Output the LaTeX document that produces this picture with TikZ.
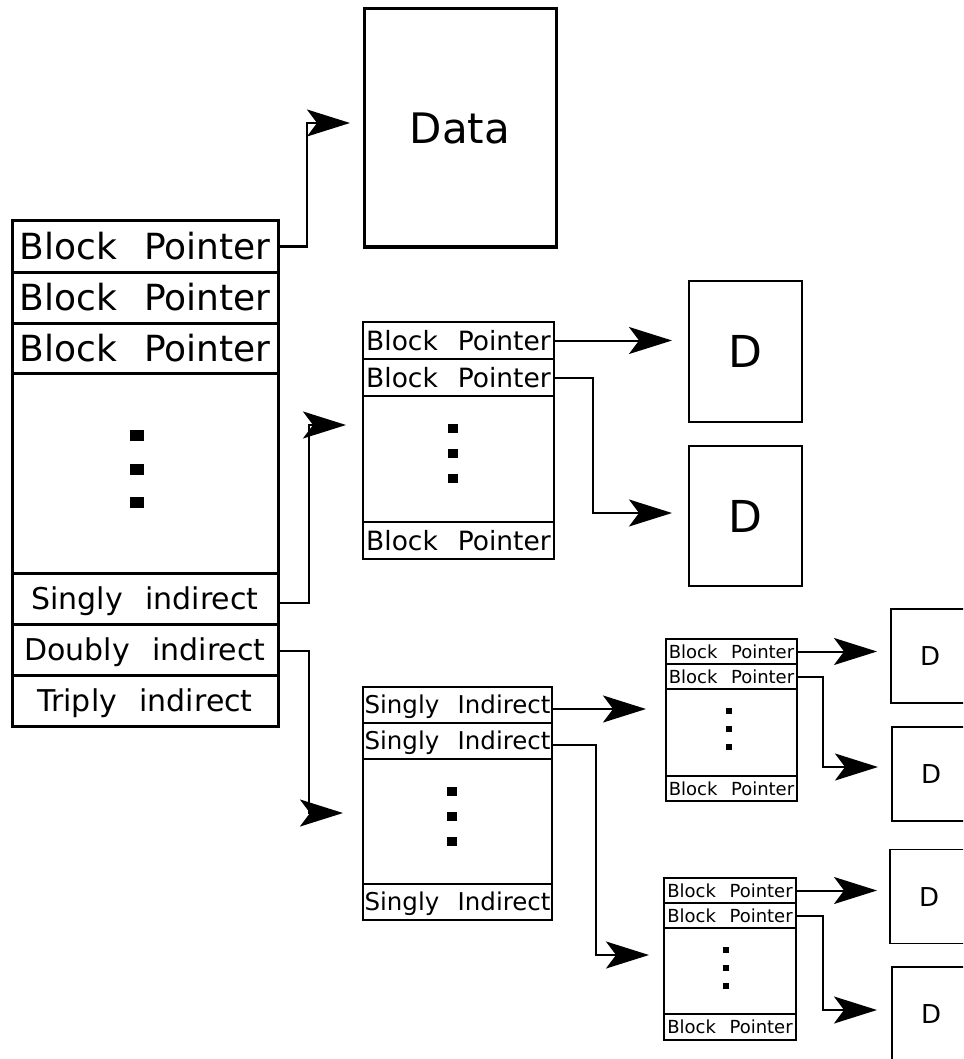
\documentclass[tikz,border=0pt]{standalone}
\usepackage{fontspec}
\setmainfont{DejaVu Sans}
\usetikzlibrary{arrows.meta,calc}
\newcommand{\wgap}{\hspace{0.75em}}
\begin{document}
\begin{tikzpicture}[x=1pt,y=-1pt,
  cell/.style={draw,rectangle,inner sep=0pt,text depth=0pt,line join=miter},
  bigc/.style={cell,line width=3pt,minimum width=266pt},
  bigbp/.style={bigc,font=\fontsize{36}{40}\selectfont,text height=26.3pt},
  bigind/.style={bigc,font=\fontsize{30}{34}\selectfont,text height=21.9pt},
  midc/.style={cell,line width=2.5pt,minimum width=191pt,font=\fontsize{26.5}{30}\selectfont,text height=19.3pt},
  dblc/.style={cell,line width=2.5pt,minimum width=189pt,font=\fontsize{24.5}{28}\selectfont,text height=17.9pt},
  smlc/.style={cell,line width=2pt,font=\fontsize{18}{21}\selectfont,text height=13.1pt},
  bigd/.style={cell,line width=2.5pt,minimum width=113pt,font=\fontsize{44}{48}\selectfont,text height=32pt},
  smld/.style={cell,line width=1.5pt,minimum width=78pt,minimum height=94pt,font=\fontsize{26}{30}\selectfont,text height=19pt},
  conn/.style={line width=2pt,-{Stealth[length=43pt,width=27pt,inset=10pt]}},
  sq/.style={fill=black}
]
\useasboundingbox (0,0) rectangle (963,1059);
\clip (0,0) rectangle (963,1059);

% main inode table
\node[bigbp,minimum height=51pt] (b1) at (145,246.5) {Block\wgap Pointer};
\node[bigbp,minimum height=51pt] (b2) at (145,297.5) {Block\wgap Pointer};
\node[bigbp,minimum height=50pt] (b3) at (145,348) {Block\wgap Pointer};
\node[bigc,minimum height=200pt] (bm) at (145,473) {};
\node[bigind,minimum height=51pt] (si) at (145,598.5) {Singly\wgap indirect};
\node[bigind,minimum height=51pt] (di) at (145,649.5) {Doubly\wgap indirect};
\node[bigind,minimum height=51pt] (ti) at (145,700.5) {Triply\wgap indirect};
\fill[sq] (130,430) rectangle (144,441);
\fill[sq] (130,463.5) rectangle (144,474.5);
\fill[sq] (130,497) rectangle (144,508);

% data block
\node[cell,line width=3pt,minimum width=192pt,minimum height=238pt,font=\fontsize{42}{46}\selectfont,text height=30.7pt] (data) at (460,128) {Data};

% singly indirect block
\node[midc,minimum height=37pt] (m1) at (458.5,340.5) {Block\wgap Pointer};
\node[midc,minimum height=37pt] (m2) at (458.5,377.5) {Block\wgap Pointer};
\node[midc,minimum height=126pt] (mm) at (458.5,459) {};
\node[midc,minimum height=37pt] (m3) at (458.5,540.5) {Block\wgap Pointer};
\fill[sq] (448,424) rectangle (458,433);
\fill[sq] (448,449) rectangle (458,458);
\fill[sq] (448,474) rectangle (458,483);

\node[bigd,minimum height=141pt] (d1) at (745.5,351.5) {D};
\node[bigd,minimum height=140pt] (d2) at (745.5,516) {D};

% doubly indirect block
\node[dblc,minimum height=36pt] (s1) at (457.5,705) {Singly\wgap Indirect};
\node[dblc,minimum height=36pt] (s2) at (457.5,741) {Singly\wgap Indirect};
\node[dblc,minimum height=125pt] (sm) at (457.5,821.5) {};
\node[dblc,minimum height=36pt] (s3) at (457.5,902) {Singly\wgap Indirect};
\fill[sq] (447,787) rectangle (457,796);
\fill[sq] (447,812) rectangle (457,821);
\fill[sq] (447,837) rectangle (457,846);

% small pointer blocks
\node[smlc,minimum width=131pt,minimum height=25pt] (p1) at (731.5,651.5) {Block\wgap Pointer};
\node[smlc,minimum width=131pt,minimum height=25pt] (p2) at (731.5,676.5) {Block\wgap Pointer};
\node[smlc,minimum width=131pt,minimum height=87pt] (pm) at (731.5,732.5) {};
\node[smlc,minimum width=131pt,minimum height=25pt] (p3) at (731.5,788.5) {Block\wgap Pointer};
\fill[sq] (726,708) rectangle (732,714);
\fill[sq] (726,725.5) rectangle (732,731.5);
\fill[sq] (726,743.5) rectangle (732,749.5);

\node[smlc,minimum width=132pt,minimum height=25pt] (q1) at (730,890.5) {Block\wgap Pointer};
\node[smlc,minimum width=132pt,minimum height=25pt] (q2) at (730,915.5) {Block\wgap Pointer};
\node[smlc,minimum width=132pt,minimum height=86pt] (qm) at (730,971) {};
\node[smlc,minimum width=132pt,minimum height=26pt] (q3) at (730,1027) {Block\wgap Pointer};
\fill[sq] (723,946.5) rectangle (729,952.5);
\fill[sq] (723,964.5) rectangle (729,970.5);
\fill[sq] (723,982.5) rectangle (729,988.5);

% small data blocks
\node[smld] (d3) at (930,656) {D};
\node[smld] (d4) at (931,774) {D};
\node[smld] (d5) at (929,896.5) {D};
\node[smld] (d6) at (931,1014) {D};

% arrow tips
\coordinate (t1) at (350,123);
\coordinate (t2) at (346,425);
\coordinate (t3) at (343,813);
\coordinate (t4) at (672,340.5);
\coordinate (t5) at (672,513);
\coordinate (t6) at (646,709);
\coordinate (t7) at (649,955);
\coordinate (t8) at (877,651.5);
\coordinate (t9) at (878,767);
\coordinate (t10) at (877,890.5);
\coordinate (t11) at (877,1010);

% connectors
\draw[conn] (b1.east) -- ++(27,0) |- (t1);
\draw[conn] ([yshift=-4pt]si.east) -- ++(29,0) |- (t2);
\draw[conn] ([yshift=-1.5pt]di.east) -- ++(29,0) |- (t3);
\draw[conn] (m1.east) -- (t4);
\draw[conn] (m2.east) -- ++(38,0) |- (t5);
\draw[conn] ([yshift=-4pt]s1.east) -- (t6);
\draw[conn] ([yshift=-4pt]s2.east) -- ++(43,0) |- (t7);
\draw[conn] (p1.east) -- (t8);
\draw[conn] (p2.east) -- ++(25,0) |- (t9);
\draw[conn] (q1.east) -- (t10);
\draw[conn] (q2.east) -- ++(26,0) |- (t11);
\end{tikzpicture}
\end{document}
